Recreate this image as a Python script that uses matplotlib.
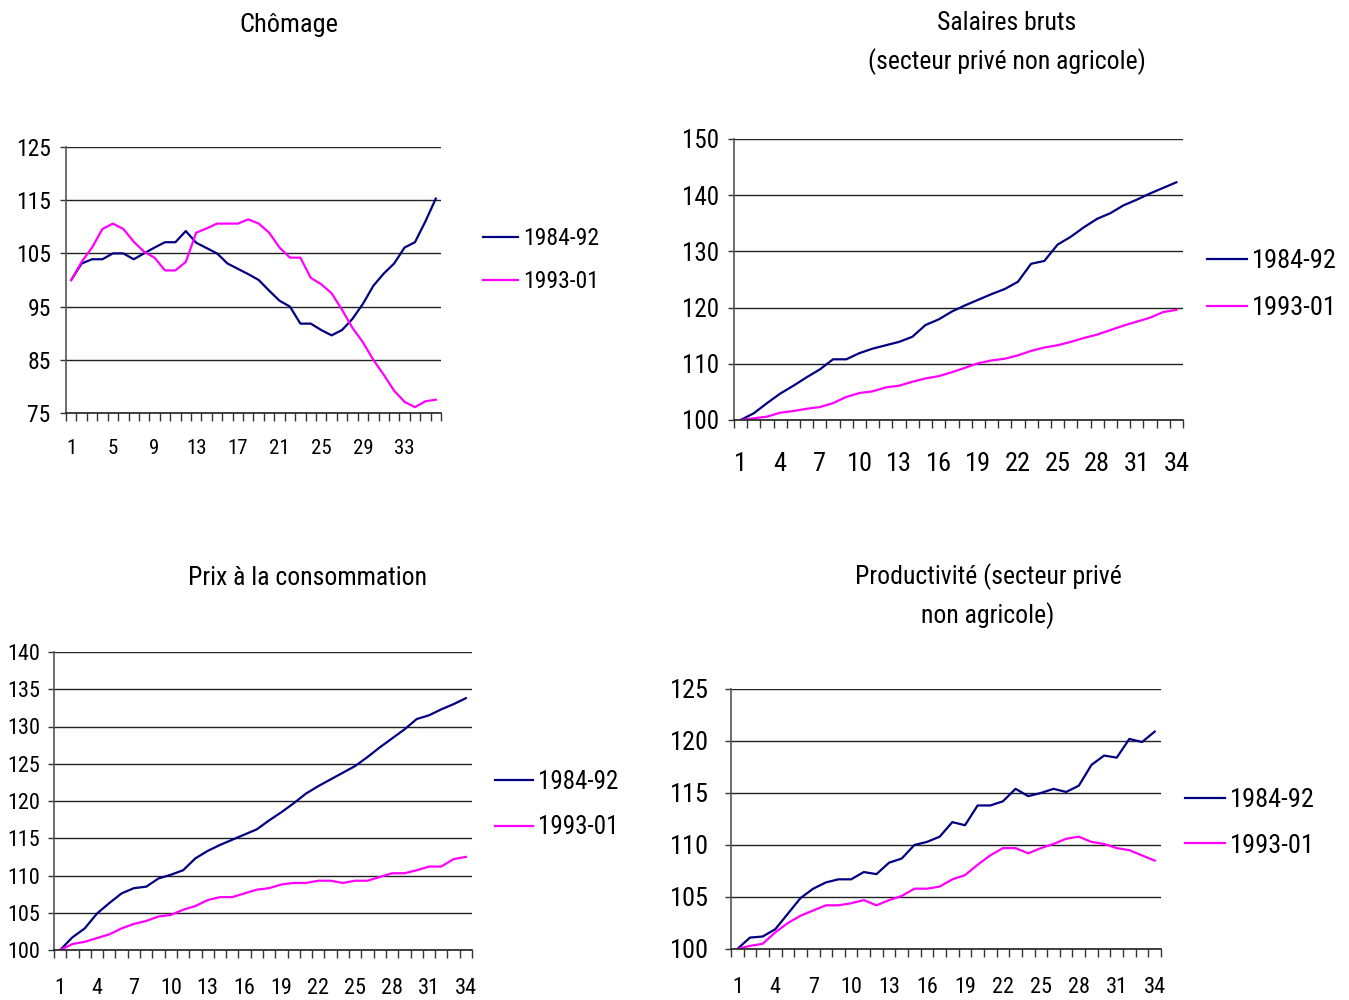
"""
Quatre indicateurs, deux cycles (1984-92 et 1993-01), base 100
"""
################################################################################
# Import
import numpy as np
import matplotlib
matplotlib.use("Agg")
import matplotlib.pyplot as plt
from matplotlib.ticker import FixedLocator

################################################################################
# Data
series_labels = ["1984-92", "1993-01"]

chomage_8492 = [100, 103.1, 103.9, 103.9, 105, 105, 103.9, 105, 106.1, 107.1,
                107.1, 109.2, 107, 106, 105, 103.1, 102.1, 101.1, 100, 98,
                96.1, 95, 91.8, 91.8, 90.6, 89.6, 90.6, 92.7, 95.5, 98.9,
                101.2, 103.1, 106.1, 107.1, 111, 115.3]
chomage_9301 = [100, 103.4, 106.1, 109.6, 110.6, 109.6, 107.2, 105.3, 104.2, 101.8,
                101.8, 103.4, 108.9, 109.7, 110.6, 110.6, 110.6, 111.4, 110.6, 108.9,
                106.1, 104.2, 104.2, 100.4, 99.2, 97.5, 94.4, 91, 88.3, 85,
                82.2, 79.2, 77.1, 76.1, 77.2, 77.5]

salaires_8492 = [100, 101.2, 103, 104.7, 106.1, 107.6, 109, 110.8, 110.8, 111.9,
                 112.7, 113.3, 113.9, 114.8, 116.9, 117.9, 119.3, 120.4, 121.4, 122.4,
                 123.3, 124.6, 127.8, 128.3, 131.2, 132.6, 134.3, 135.8, 136.8, 138.2,
                 139.2, 140.3, 141.3, 142.3]
salaires_9301 = [100, 100.3, 100.6, 101.3, 101.6, 102, 102.3, 103, 104.1, 104.8,
                 105.1, 105.8, 106.1, 106.8, 107.4, 107.8, 108.5, 109.3, 110.1, 110.6,
                 110.9, 111.5, 112.3, 112.9, 113.3, 113.9, 114.6, 115.2, 116, 116.8,
                 117.5, 118.2, 119.2, 119.6]

prix_8492 = [100, 101.7, 102.9, 104.9, 106.3, 107.6, 108.3, 108.5, 109.6, 110.1,
             110.7, 112.3, 113.3, 114.1, 114.8, 115.5, 116.2, 117.4, 118.5, 119.7,
             121, 122, 122.9, 123.8, 124.7, 125.9, 127.2, 128.4, 129.6, 131,
             131.5, 132.3, 133, 133.8]
prix_9301 = [100, 100.8, 101.1, 101.6, 102.1, 102.9, 103.5, 103.9, 104.5, 104.7,
             105.4, 105.9, 106.7, 107.1, 107.1, 107.6, 108.1, 108.3, 108.8, 109,
             109, 109.3, 109.3, 109, 109.3, 109.3, 109.8, 110.3, 110.3, 110.7,
             111.2, 111.2, 112.2, 112.5]

product_8492 = [100, 101.1, 101.2, 101.9, 103.4, 104.9, 105.8, 106.4, 106.7, 106.7,
                107.4, 107.2, 108.3, 108.7, 110, 110.3, 110.8, 112.2, 111.9, 113.8,
                113.8, 114.2, 115.4, 114.7, 115, 115.4, 115.1, 115.7, 117.7, 118.6,
                118.4, 120.2, 119.9, 120.9]
product_9301 = [100, 100.3, 100.5, 101.6, 102.5, 103.2, 103.7, 104.2, 104.2, 104.4,
                104.7, 104.2, 104.7, 105.1, 105.8, 105.8, 106, 106.7, 107.1, 108.1,
                109, 109.7, 109.7, 109.2, 109.7, 110.1, 110.6, 110.8, 110.3, 110.1,
                109.7, 109.5, 109, 108.5]

titles = ["Chômage",
          "Salaires bruts\n(secteur privé non agricole)",
          "Prix à la consommation",
          "Productivité (secteur privé\nnon agricole)"]

################################################################################
# Style
# narrow font, close to the original Arial Narrow
FONT = ["Roboto Condensed", "DejaVu Sans"]
plt.rcParams["font.family"] = FONT
NAVY = "#000080"
MAGENTA = "#FF00FF"

W, H = 1349, 1000


def px_axes(fig, left, top, right, bottom):
    # axes placed from pixel box
    return fig.add_axes([left / W, 1 - bottom / H, (right - left) / W, (bottom - top) / H])


# draw one panel
def draw_panel(ax, a, b, yticks, xstep, ysize, xsize, xpad, ypad):
    n = len(a)
    x = np.arange(1, n + 1)
    ax.plot(x, a, color=NAVY, lw=1.6, label=series_labels[0])
    ax.plot(x, b, color=MAGENTA, lw=1.6, label=series_labels[1])
    ax.set_xlim(0.5, n + 0.5)
    ax.set_ylim(yticks[0], yticks[-1])
    ax.set_yticks(yticks)
    ax.set_xticks(np.arange(1, n + 1, xstep))
    ax.xaxis.set_minor_locator(FixedLocator(np.arange(0.5, n + 1, 1.0)))
    ax.tick_params(axis="x", which="major", length=0, pad=xpad, labelsize=xsize)
    ax.tick_params(axis="x", which="minor", length=6, width=1, color="#333333", direction="out")
    ax.tick_params(axis="y", length=4, width=1, color="#333333", pad=ypad, labelsize=ysize)
    ax.yaxis.grid(True, color="#222222", lw=1)
    ax.set_axisbelow(True)
    for s in ["top", "right"]:
        ax.spines[s].set_visible(False)
    ax.spines["left"].set_color("#555555")
    ax.spines["bottom"].set_color("#222222")
    ax.spines["left"].set_linewidth(1.2)
    ax.spines["bottom"].set_linewidth(1.2)


def add_legend(fig, ax, x, y, size, spacing):
    ax.legend(loc="upper left", bbox_to_anchor=(x / W, 1 - y / H),
              bbox_transform=fig.transFigure, frameon=False, fontsize=size,
              handlelength=1.5, handletextpad=0.2, labelspacing=spacing,
              borderpad=0, borderaxespad=0)


################################################################################
# Main
if __name__ == "__main__":
    fig = plt.figure(figsize=(W / 100, H / 100), dpi=100)

    # ----- Chomage ----- #
    ax1 = px_axes(fig, 66, 147, 441, 413)
    draw_panel(ax1, chomage_8492, chomage_9301, [75, 85, 95, 105, 115, 125], 4, 17, 15, 19, 7)
    add_legend(fig, ax1, 483, 227, 17, 0.85)
    fig.text(289 / W, 1 - 25 / H, titles[0], ha="center", va="center", fontsize=19)

    # ----- Salaires ----- #
    ax2 = px_axes(fig, 734, 139, 1183, 420)
    draw_panel(ax2, salaires_8492, salaires_9301, [100, 110, 120, 130, 140, 150], 3, 18, 19, 23, 7)
    add_legend(fig, ax2, 1207, 249, 19, 0.88)
    fig.text(1007 / W, 1 - 43 / H, titles[1], ha="center", va="center", fontsize=18.5,
             linespacing=1.6)

    # ----- Prix ----- #
    ax3 = px_axes(fig, 54, 652, 472, 950)
    draw_panel(ax3, prix_8492, prix_9301, [100, 105, 110, 115, 120, 125, 130, 135, 140], 3,
               16, 16, 20, 6)
    add_legend(fig, ax3, 495, 770, 18, 0.85)
    fig.text(308 / W, 1 - 578 / H, titles[2], ha="center", va="center", fontsize=18.5)

    # ----- Productivite ----- #
    ax4 = px_axes(fig, 731, 689, 1161, 949)
    draw_panel(ax4, product_8492, product_9301, [100, 105, 110, 115, 120, 125], 3, 19, 16, 20, 12)
    add_legend(fig, ax4, 1185, 788, 19, 0.82)
    fig.text(988 / W, 1 - 596 / H, titles[3], ha="center", va="center", fontsize=18.5,
             linespacing=1.55)

    fig.savefig("out.png", dpi=100)
